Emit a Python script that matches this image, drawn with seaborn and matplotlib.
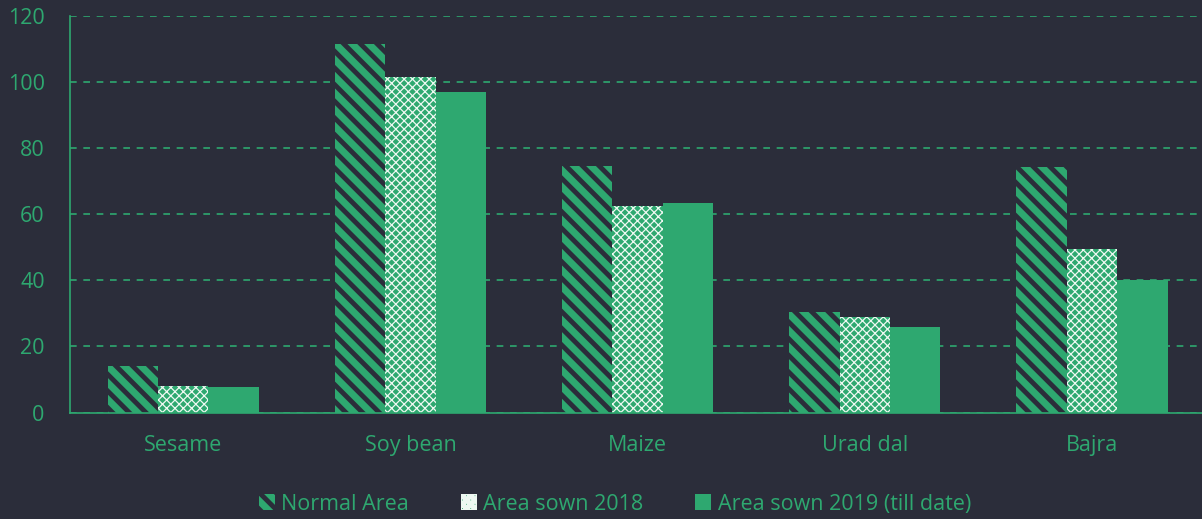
import pandas as pd
import matplotlib.pyplot as plt
import seaborn as sns

# === DATA ===
crops = ["Sesame", "Soy bean", "Maize", "Urad dal", "Bajra"]
normal_area = [14, 111.5, 74.5, 30.5, 74.3]
sown_2018 = [8, 101.3, 62.3, 29, 49.3]
sown_2019 = [7.6, 96.8, 63.5, 26, 40.2]
series = ["Normal Area", "Area sown 2018", "Area sown 2019 (till date)"]

df = pd.DataFrame({
    "crop": crops * 3,
    "value": normal_area + sown_2018 + sown_2019,
    "series": [series[0]] * 5 + [series[1]] * 5 + [series[2]] * 5,
})

# === STYLE ===
BG = "#2b2d3a"
GREEN = "#2ea870"
sns.set_style("dark")
plt.rcParams["font.family"] = ["Open Sans", "DejaVu Sans"]
plt.rcParams["hatch.linewidth"] = 3.5

fig = plt.figure(figsize=(12.02, 5.19), dpi=100, facecolor=BG)
ax = fig.add_axes([0.058, 0.205, 0.945, 0.765], facecolor=BG)

sns.barplot(data=df, x="crop", y="value", hue="series", ax=ax,
            palette=[GREEN] * 3, width=0.665, saturation=1, legend=False)

# hatches per series
hatch_specs = [("\\\\", BG, 3.5), ("xxxx", "#eef8f2", 0.9), ("", GREEN, 0)]
for cont, (h, ec, lw) in zip(ax.containers, hatch_specs):
    for bar in cont:
        bar.set_hatch(h)
        bar.set_edgecolor(ec)
        bar.set_linewidth(0)
        if hasattr(bar, "set_hatch_linewidth") and h:
            bar.set_hatch_linewidth(lw)

ax.set_ylim(0, 120)
ax.set_xlim(-0.5, 4.5)
ax.set_yticks(range(0, 121, 20))
ax.set_xlabel("")
ax.set_ylabel("")
ax.grid(axis="y", color=GREEN, linestyle=(0, (4, 4)), linewidth=1.2)
ax.grid(axis="x", visible=False)
ax.set_axisbelow(True)
for side in ["top", "right"]:
    ax.spines[side].set_visible(False)
for side in ["left", "bottom"]:
    ax.spines[side].set_visible(True)
    ax.spines[side].set_color(GREEN)
    ax.spines[side].set_linewidth(1.2)
ax.tick_params(colors=GREEN, labelsize=15.5, length=0)
ax.tick_params(axis="x", pad=16)
ax.tick_params(axis="y", pad=18)

handles = [cont[0] for cont in ax.containers]
leg = ax.legend(handles, series, loc="upper center", bbox_to_anchor=(0.48, -0.155),
                ncol=3, frameon=False, fontsize=15.5, labelcolor=GREEN,
                handlelength=0.75, handleheight=0.75, handletextpad=0.3,
                columnspacing=2.4)

fig.savefig("out.png", dpi=100, facecolor=BG)
